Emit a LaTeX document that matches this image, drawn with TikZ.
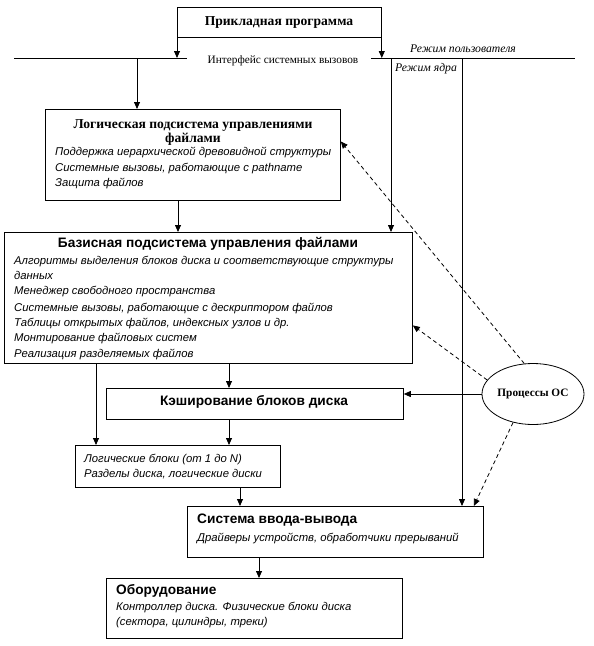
\documentclass[tikz,border=0pt]{standalone}
\usepackage{fontspec}
\setmainfont{Liberation Serif}
\setsansfont{Liberation Sans}
\usetikzlibrary{arrows.meta,shapes.geometric}
\begin{document}
\begin{tikzpicture}[x=1pt,y=-1pt,
  box/.style={draw, line width=0.8pt, inner sep=0pt, anchor=north west},
  arr/.style={-{Triangle[length=7pt,width=6pt]}, line width=0.8pt},
  darr/.style={arr, dash pattern=on 4pt off 3pt},
  line/.style={line width=0.8pt},
  itm/.style={anchor=base west, inner sep=0pt, yshift=-3.5pt, font=\sffamily\itshape\fontsize{11.3}{13}\selectfont},
  sttl/.style={inner sep=0pt, font=\sffamily\bfseries\fontsize{13.7}{15}\selectfont},
  rttl/.style={inner sep=0pt, font=\bfseries\fontsize{13.6}{14}\selectfont, align=center},
  small/.style={inner sep=0pt, font=\fontsize{11.3}{13}\selectfont},
  smalli/.style={inner sep=0pt, font=\itshape\fontsize{11.7}{13}\selectfont}
]
\useasboundingbox (0,0) rectangle (594,646);

% boxes
\node[box, minimum width=204pt, minimum height=30pt] (app) at (177,7) {};
\node[box, minimum width=295pt, minimum height=91pt] (logic) at (45,109) {};
\node[box, minimum width=408pt, minimum height=131pt] (basic) at (4,232) {};
\node[box, minimum width=297pt, minimum height=31pt] (cache) at (106,388) {};
\node[box, minimum width=205pt, minimum height=42pt] (lb) at (75,445) {};
\node[box, minimum width=296pt, minimum height=51pt] (io) at (187,506) {};
\node[box, minimum width=296pt, minimum height=60pt] (hw) at (106,578) {};
\node[draw, line width=0.8pt, ellipse, minimum width=102pt, minimum height=61pt, inner sep=0pt,
      font=\bfseries\fontsize{11.3}{13}\selectfont] (proc) at (533,394) {Процессы ОС};

% texts
\node[rttl] (appT) at (279,22) {Прикладная программа};
\node[small] (ifT) at (283,61) {Интерфейс системных вызовов};
\node[smalli] (umT) at (463,49) {Режим пользователя};
\node[smalli] (kmT) at (426,69) {Режим ядра};

\node[rttl] (logT) at (193,132) {Логическая подсистема управлениями\\файлами};
\node[itm] (l1) at (55,152) {Поддержка иерархической древовидной структуры};
\node[itm] (l2) at (55,168) {Системные вызовы, работающие с pathname};
\node[itm] (l3) at (55,183) {Защита файлов};

\node[sttl] (basT) at (208,244) {Базисная подсистема управления файлами};
\node[itm] (b1) at (14,261) {Алгоритмы выделения блоков диска и соответствующие структуры};
\node[itm] (b2) at (14,276) {данных};
\node[itm] (b3) at (14,291) {Менеджер свободного пространства};
\node[itm] (b4) at (14,308) {Системные вызовы, работающие с дескриптором файлов};
\node[itm] (b5) at (14,323) {Таблицы открытых файлов, индексных узлов и др.};
\node[itm] (b6) at (14,338) {Монтирование файловых систем};
\node[itm] (b7) at (14,354) {Реализация разделяемых файлов};

\node[sttl] (cacT) at (254,402) {Кэширование блоков диска};

\node[itm] (lb1) at (84,459) {Логические блоки (от 1 до N)};
\node[itm] (lb2) at (84,474) {Разделы диска, логические диски};

\node[sttl, anchor=west] (ioT) at (197,520) {Система ввода-вывода};
\node[itm] (io1) at (197,538) {Драйверы устройств, обработчики прерываний};

\node[sttl, anchor=west] (hwT) at (116,591) {Оборудование};
\node[itm] (hw1) at (116,607) {Контроллер диска. Физические блоки диска};
\node[itm] (hw2) at (116,622) {(сектора, цилиндры, треки)};

% interface line
\coordinate (ifA) at (14,58);
\coordinate (ifB) at (187,58);
\coordinate (ifC) at (371,58);
\coordinate (ifD) at (575,58);
\draw[line] (ifA) -- (ifB);
\draw[line] (ifC) -- (ifD);

\draw[arr] (app.south west) -- (app.south west |- ifA);
\draw[arr] (app.south east) -- (app.south east |- ifA);

\coordinate (iL) at (137,58);
\coordinate (k1) at (391,58);
\coordinate (k2) at (462,58);
\draw[arr] (iL) -- (iL |- logic.north);
\draw[arr] (k1) -- (k1 |- basic.north);
\draw[arr] (k2) -- (k2 |- io.north);

% vertical flow
\coordinate (x1) at (178,0);
\coordinate (x2) at (96,0);
\coordinate (x3) at (229,0);
\coordinate (x4) at (240,0);
\coordinate (x5) at (259,0);
\draw[arr] (logic.south -| x1) -- (basic.north -| x1);
\draw[arr] (basic.south -| x2) -- (lb.north -| x2);
\draw[arr] (basic.south -| x3) -- (cache.north -| x3);
\draw[arr] (cache.south -| x3) -- (lb.north -| x3);
\draw[arr] (lb.south -| x4) -- (io.north -| x4);
\draw[arr] (io.south -| x5) -- (hw.north -| x5);

% OS processes
\draw[arr] (proc.west) -- (cache.east |- proc.west);
\draw[darr] (proc.106) -- ([yshift=13.5pt]logic.east);
\draw[darr] (proc.163) -- ([yshift=-27.5pt]basic.east);
\draw[darr] (proc.235) -- ([xshift=-10pt]io.north east);
\end{tikzpicture}
\end{document}
